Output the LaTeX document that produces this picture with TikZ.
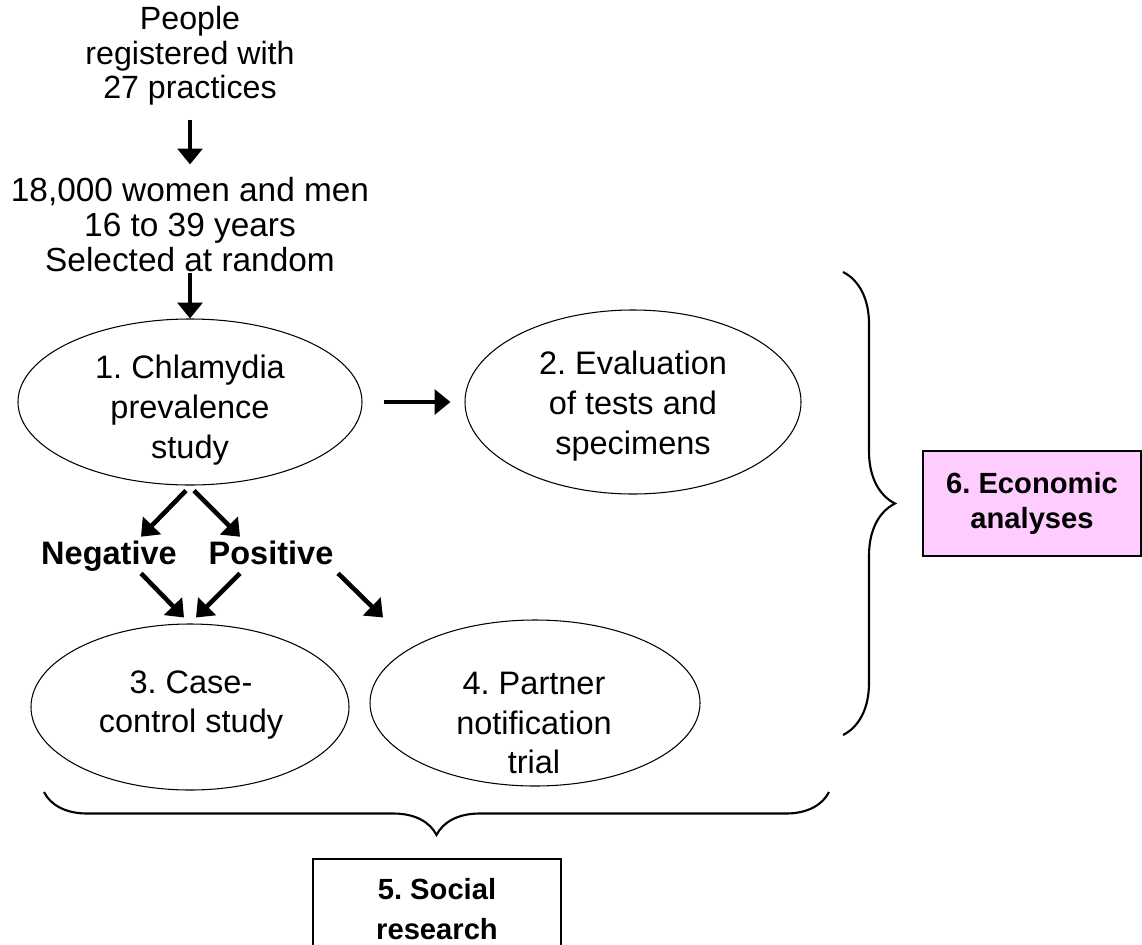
\documentclass[tikz,border=0pt]{standalone}
\usepackage{fontspec}
\setmainfont{Liberation Sans}
\usepackage{tikz}
\usetikzlibrary{shapes.geometric}
\usetikzlibrary{arrows.meta}
\usetikzlibrary{decorations.pathreplacing}
\usepackage{color}
\definecolor{lilac}{RGB}{255, 204, 255}
\frenchspacing

\begin{document}
\begin{tikzpicture}[
    txt/.style     ={align=center, inner sep=0pt, font=\fontsize{18.3}{19.7}\selectfont},
    bigtxt/.style  ={txt, font=\fontsize{19}{19.9}\selectfont},
    result/.style  ={inner sep=0pt, text height=0.75em, text depth=0.21em, font=\fontsize{18.5}{22}\selectfont\bfseries},
    study/.style   ={draw, ellipse, line width=0.6pt, inner sep=0pt},
    studytxt/.style={align=center, inner sep=0pt, font=\fontsize{18.5}{22.7}\selectfont},
    panel/.style   ={draw, rectangle, line width=0.9pt, align=center, inner sep=0pt, font=\fontsize{16.6}{19.9}\selectfont\bfseries},
    flow/.style    ={-{Triangle[length=9pt, width=14pt]}, line width=2.6pt},
    bracket/.style ={decorate, decoration={brace, amplitude=#1}, line width=1.2pt}
  ]
  \useasboundingbox (0,0) rectangle (22.84,-18.88);
  \node[txt]     (people)  at ( 3.80, -1.12) {People\\registered with\\27 practices};
  \node[bigtxt]  (sample)  at ( 3.80, -4.50) {18,000 women and men\\16 to 39 years\\Selected at random};
  \node[study, minimum width=6.88cm, minimum height=3.32cm] (prev)    at ( 3.80, -8.04) {};
  \node[study, minimum width=6.72cm, minimum height=3.68cm] (eval)    at (12.66, -8.04) {};
  \node[study, minimum width=6.36cm, minimum height=3.32cm] (casectl) at ( 3.80,-14.14) {};
  \node[study, minimum width=6.60cm, minimum height=3.32cm] (partner) at (10.70,-14.06) {};
  \node[studytxt] (prevtxt)    at ( 3.80, -8.20) {1. Chlamydia\\prevalence\\study};
  \node[studytxt] (evaltxt)    at (12.66, -8.12) {2. Evaluation\\of tests and\\specimens};
  \node[studytxt] (casetxt)    at ( 3.82,-14.10) {3. Case-\\control study};
  \node[studytxt] (partnertxt) at (10.68,-14.46) {4. Partner\\notification\\trial};
  \node[result]  (neg)     at ( 2.18,-11.19) {Negative};
  \node[result]  (pos)     at ( 5.42,-11.19) {Positive};
  \node[panel, fill=lilac, minimum width=4.36cm, minimum height=2.10cm] (econ)   at (20.64,-10.07) {6. Economic\\analyses};
  \node[panel, minimum width=4.96cm, minimum height=2.02cm, font=\fontsize{16.6}{22.7}\selectfont\bfseries] (social) at ( 8.74,-18.19) {5. Social\\research};
  \coordinate (rtop)   at (16.86, -5.44);
  \coordinate (rbot)   at (16.86,-14.70);
  \coordinate (bright) at (16.58,-15.84);
  \coordinate (bleft)  at ( 0.88,-15.84);
  \draw[flow] ([yshift=-0.28cm]people.south) -- ([yshift=0.26cm]sample.north);
  \draw[flow] (sample.south) -- (prev.north);
  \draw[flow] ([xshift=0.42cm]prev.east) -- ([xshift=-0.28cm]eval.west);
  \draw[flow] ([shift={(-0.08,-0.10)}]prev.south) -- ([shift={( 0.64,0.28)}]neg.north);
  \draw[flow] ([shift={( 0.08,-0.10)}]prev.south) -- ([shift={(-0.62,0.28)}]pos.north);
  \draw[flow] ([shift={( 0.64,-0.10)}]neg.south)  -- ([shift={(-0.12,0.12)}]casectl.north);
  \draw[flow] ([shift={(-0.62,-0.10)}]pos.south)  -- ([shift={( 0.12,0.12)}]casectl.north);
  \draw[flow] ([shift={( 1.34,-0.10)}]pos.south)  -- ([shift={(-3.04,0.04)}]partner.north);
  \draw[bracket=1.04cm] (rtop) -- (rbot);
  \draw[bracket=0.86cm] (bright) -- (bleft);
\end{tikzpicture}
\end{document}
